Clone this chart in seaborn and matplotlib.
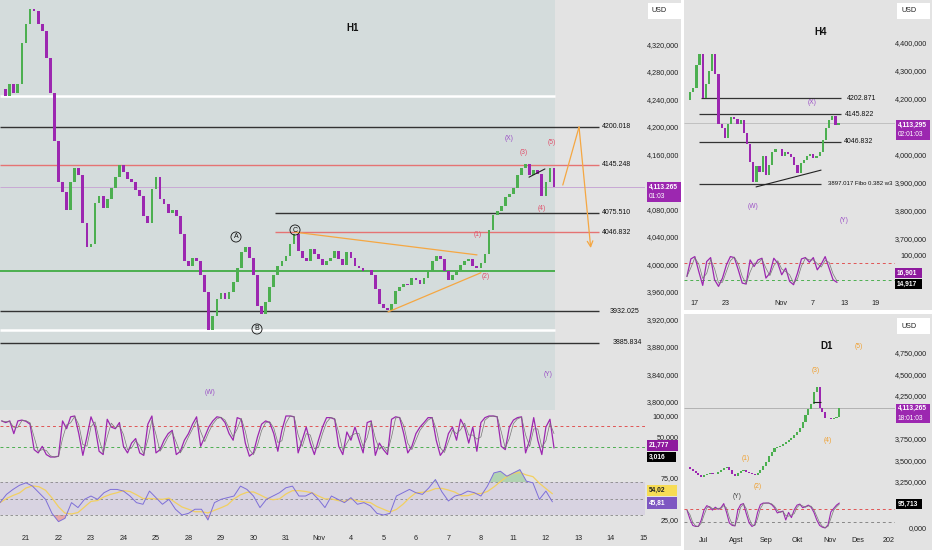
import numpy as np
import pandas as pd
import matplotlib
matplotlib.use("Agg")
import matplotlib.pyplot as plt
from matplotlib.patches import Rectangle
import seaborn as sns

# ---------------- data ----------------
# H1 (one value every 3 hours, day 0 = 21 Oct)
h1_close = [4255, 4245, 4262, 4250, 4262, 4322, 4350, 4372, 4368, 4350,
            4340, 4300, 4250, 4180, 4120, 4105, 4080, 4120, 4140, 4130,
            4060, 4025, 4030, 4090, 4100, 4082, 4095, 4112, 4128, 4145,
            4135, 4125, 4120, 4108, 4100, 4070, 4060, 4110, 4128, 4095,
            4088, 4075, 4080, 4070, 4045, 4005, 3998, 4010, 4005, 3985,
            3960, 3905, 3925, 3950, 3958, 3950, 3960, 3975, 3995, 4018,
            4025, 4010, 3985, 3940, 3928, 3945, 3968, 3985, 3998, 4005,
            4012, 4030, 4045, 4020, 4010, 4005, 4022, 4015, 4008, 4000,
            4005, 4010, 4020, 4008, 4000, 4018, 4010, 3998, 3995, 3990,
            3992, 3985, 3965, 3942, 3937, 3934, 3942, 3962, 3968, 3972,
            3970, 3980, 3978, 3972, 3980, 3990, 4005, 4012, 4008, 3990,
            3978, 3985, 3992, 4000, 4005, 4008, 3998, 3995, 4002, 4015,
            4050, 4072, 4078, 4085, 4098, 4102, 4112, 4130, 4140, 4146,
            4130, 4138, 4132, 4100, 4120, 4140, 4113.265]
h1_stoch = [88, 84, 88, 57, 88, 90, 87, 80, 18, 10,
            26, 6, 0, 0, 2, 88, 69, 98, 100, 57,
            4, 49, 98, 73, 14, 6, 92, 73, 69, 84,
            26, 10, 34, 45, 10, 4, 80, 100, 10, 18,
            41, 57, 65, 6, 14, 41, 57, 80, 98, 26,
            49, 73, 88, 98, 96, 84, 57, 41, 96, 92,
            34, 2, 10, 49, 80, 88, 84, 57, 14, 65,
            100, 100, 98, 10, 41, 73, 34, 6, 41, 73,
            96, 96, 92, 26, 6, 61, 41, 73, 41, 10,
            84, 88, 4, 34, 18, 6, 92, 98, 96, 57,
            10, 26, 57, 73, 84, 96, 96, 41, 4, 18,
            57, 73, 41, 92, 73, 34, 73, 14, 84, 96,
            100, 100, 98, 26, 18, 73, 90, 96, 98, 10,
            41, 96, 41, 6, 73, 92, 22]
h1_rsi = [45, 55, 61, 66, 69, 65, 57, 49, 32, 22,
          26, 45, 39, 49, 53, 49, 57, 61, 61, 59,
          53, 45, 43, 59, 51, 43, 49, 37, 30, 32,
          37, 37, 24, 45, 49, 51, 53, 65, 61, 53,
          39, 49, 53, 57, 63, 65, 53, 53, 57, 49,
          39, 53, 49, 45, 51, 43, 45, 41, 32, 30,
          32, 53, 57, 61, 57, 55, 63, 73, 58, 47,
          53, 55, 59, 57, 53, 65, 81, 83, 77, 81,
          85, 71, 69, 49, 59, 46]
h1_days = ["21", "22", "23", "24", "25", "28", "29", "30", "31", "Nov",
           "4", "5", "6", "7", "8", "11", "12", "13", "14", "15"]
h1_levels = [4200.018, 4145.248, 4075.510, 4046.832, 3932.025, 3885.834]
h1_zones = [4245, 3905]      # white lines
h1_support = 3990            # green line
h1_price_ticks = [3800, 3840, 3880, 3920, 3960, 4000, 4040, 4080, 4160, 4200, 4240, 4280, 4320]

# H4 (trading day 0 = 17 Oct)
h4_close = [4196, 4225, 4240, 4320, 4360, 4205, 4255, 4300, 4360, 4290,
            4110, 4095, 4060, 4110, 4135, 4128, 4112, 4125, 4078, 4040,
            3975, 3905, 3960, 3940, 3995, 3930, 3965, 4010, 4022, 4020,
            3995, 4012, 4005, 3992, 3965, 3935, 3970, 3982, 3995, 4005,
            3990, 3998, 4010, 4055, 4095, 4125, 4138, 4107, 4113.295]
h4_stoch = [35, 88, 95, 50, 8, 80, 92, 25, 5, 30,
            70, 95, 92, 55, 15, 12, 85, 65, 85, 90,
            30, 45, 90, 75, 40, 60, 20, 10, 45, 88,
            92, 78, 92, 55, 72, 95, 60, 25, 17]
h4_tick_days = [0, 4, 11, 15, 19, 23]
h4_tick_labels = ["17", "23", "Nov", "7", "13", "19"]
h4_levels = [4202.871, 4145.822, 4046.832, 3897.017]
h4_price_ticks = [3700, 3800, 3900, 4000, 4200, 4300, 4400]

# D1 (trading day 0 = 1 Jul, one value every 2 days)
d1_close = [3428, 3405, 3380, 3360, 3330, 3310, 3331, 3345, 3355, 3345,
            3340, 3362, 3385, 3410, 3424, 3390, 3345, 3320, 3355, 3380,
            3390, 3368, 3350, 3340, 3332, 3350, 3385, 3440, 3485, 3550,
            3600, 3645, 3660, 3668, 3690, 3715, 3740, 3765, 3800, 3830,
            3880, 3950, 4030, 4100, 4160, 4300, 4355, 4110, 4060, 3990,
            3995, 3980, 3990, 4010, 4113.265]
d1_stoch = [68, 35, 10, 6, 6, 30, 69, 86, 80, 69,
            80, 72, 78, 94, 60, 19, 10, 8, 70, 90,
            94, 55, 20, 6, 12, 60, 90, 96, 96, 96,
            90, 78, 58, 62, 65, 31, 60, 40, 70, 88,
            92, 78, 82, 88, 80, 60, 31, 10, 3, 0,
            12, 62, 75, 88, 96]
d1_tick_days = [0, 23, 44, 66, 89, 109, 131]
d1_tick_labels = ["Jul", "Agst", "Sep", "Okt", "Nov", "Des", "202"]
d1_price_ticks = [3250, 3500, 3750, 4250, 4500, 4750]

# ---------------- style ----------------
GREEN = "#4caf50"
PURPLE = "#9c27b0"
ORANGE = "#f5a742"
PANEL = "#e3e3e3"
BLUEBG = "#d4dcdc"
TXT = "#222222"
WAVE_P = "#9b4fc6"
WAVE_R = "#e0506a"

sns.set_style("white")
plt.rcParams["font.family"] = ["Liberation Sans", "DejaVu Sans"]
FS = 5.2

W, H = 932, 550
fig = plt.figure(figsize=(W / 100, H / 100), dpi=100, facecolor="white")


def box(x0, y0, x1, y1):
    return [x0 / W, 1 - y1 / H, (x1 - x0) / W, (y1 - y0) / H]


def bg(x0, y0, x1, y1, color, z=-2):
    fig.add_artist(Rectangle((x0 / W, 1 - y1 / H), (x1 - x0) / W, (y1 - y0) / H,
                             transform=fig.transFigure, fc=color, ec="none", zorder=z))


def ptext(x, y, s, **kw):
    kw.setdefault("fontsize", FS)
    kw.setdefault("color", TXT)
    kw.setdefault("va", "center")
    fig.text(x / W, 1 - y / H, s, **kw)


def tag(x0, y0, x1, y1, fc, lines, tc="white", fs=4.8):
    bg(x0, y0, x1, y1, fc, z=5)
    for i, s in enumerate(lines):
        yc = y0 + (y1 - y0) * (i + 0.5) / len(lines)
        ptext(x0 + 1.5, yc, s, color=tc, fontsize=fs,
              fontweight="bold" if i == 0 else "normal", zorder=6)


def clean(ax, fc=PANEL):
    ax.set_facecolor(fc)
    for s in ax.spines.values():
        s.set_visible(False)
    ax.set_xticks([])
    ax.set_yticks([])
    ax.tick_params(length=0)


def right_ticks(ax, ticks, labels, pad_px):
    ax.yaxis.tick_right()
    ax.set_yticks(ticks)
    ax.set_yticklabels(labels)
    ax.tick_params(axis="y", length=0, pad=pad_px * 0.72, labelsize=FS, colors=TXT)
    for lab in ax.get_yticklabels():
        lab.set_horizontalalignment("right")


def bottom_ticks(ax, ticks, labels, pad_pt):
    ax.set_xticks(ticks)
    ax.set_xticklabels(labels)
    ax.tick_params(axis="x", length=0, pad=pad_pt, labelsize=FS, colors=TXT)


def candles(ax, xs, closes, width):
    c = np.asarray(closes, dtype=float)
    o = np.r_[c[0], c[:-1]]
    cols = np.where(c >= o, GREEN, PURPLE)
    h = np.where(np.abs(c - o) < 1e-9, 0.5, c - o)
    ax.bar(xs, h, bottom=o, width=width, color=cols, linewidth=0, zorder=3)


def stoch_lines(ax, xs, k, lw=0.9):
    k = pd.Series(k, dtype=float)
    d = k.rolling(2, min_periods=1).mean()
    sns.lineplot(x=xs, y=k.values, ax=ax, color=PURPLE, linewidth=lw, zorder=3)
    sns.lineplot(x=xs, y=d.values, ax=ax, color="#777777", linewidth=0.5, zorder=4)


def price_fmt(v):
    return f"{int(v):,},000"


def usd(x0, y0):
    bg(x0, y0, x0 + 33, y0 + 16, "white", z=5)
    ptext(x0 + 4, y0 + 8, "USD", zorder=6)


# panel backgrounds
bg(0, 0, 681, 546, PANEL)
bg(684, 0, 932, 310, PANEL)
bg(684, 314, 932, 550, PANEL)

# =============== H1 ===============
ax = fig.add_axes(box(0, 0, 645, 410))
clean(ax)
ax.set_xlim(-0.8, 19.05)
ax.set_ylim(3788.4, 4384.7)
ax.axvspan(-0.8, 16.28, color=BLUEBG, zorder=0, lw=0)
h1_x = -0.75 + np.arange(len(h1_close)) / 8
candles(ax, h1_x, h1_close, 0.085)

ax.hlines(h1_zones, -0.8, 16.28, color="white", lw=1.8, zorder=2)
ax.hlines(h1_support, -0.8, 16.28, color="#4caf50", lw=1.4, zorder=2)
ax.hlines(h1_close[-1], -0.8, 19.05, color="#c8a8d4", lw=0.7, zorder=2)
level_style = [("#333333", -0.8), ("#e57373", -0.8), ("#333333", 7.66),
               ("#e57373", 7.66), ("#333333", -0.8), ("#333333", -0.8)]
for lvl, (col, x0) in zip(h1_levels, level_style):
    ax.hlines(lvl, x0, 17.63, color=col, lw=1.0, zorder=2)
for lvl, lx in zip(h1_levels, [602, 602, 602, 602, 610, 613]):
    ptext(lx, 127 + (4200 - lvl) * 0.6875, f"{lvl:.3f}", color="#111111", fontsize=5.0)

# triangle, arrow path and small trendline
ax.plot([8.28, 13.88], [4047, 4014], color=ORANGE, lw=0.9, zorder=4)
ax.plot([11.14, 14.0], [3931, 3988], color=ORANGE, lw=0.9, zorder=4)
ax.plot([15.48, 15.97], [4127, 4139], color="#222222", lw=0.8, zorder=4)
ax.plot([16.52, 17.02], [4115.6, 4200], color=ORANGE, lw=0.9, zorder=4)
ax.annotate("", xy=(17.38, 4024), xytext=(17.02, 4200),
            arrowprops=dict(arrowstyle="->", color=ORANGE, lw=0.9, shrinkA=0, shrinkB=0))
right_ticks(ax, h1_price_ticks, [price_fmt(v) for v in h1_price_ticks], 34)

ptext(353, 28, "H1", fontsize=7, fontweight="bold", ha="center", color="#111111")
for s, x, y, c in [("(X)", 509, 139, WAVE_P), ("(5)", 552, 142, WAVE_R), ("(3)", 524, 153, WAVE_R),
                   ("(4)", 542, 208, WAVE_R), ("(1)", 478, 235, WAVE_R), ("(2)", 486, 277, WAVE_R),
                   ("(Y)", 548, 375, WAVE_P), ("(W)", 210, 392, WAVE_P)]:
    ptext(x, y, s, color=c, ha="center", fontsize=4.8)
for s, x, y in [("A", 236, 237), ("B", 257, 329), ("C", 295, 230)]:
    ptext(x, y, s, ha="center", fontsize=5, color="#111111",
          bbox=dict(boxstyle="circle,pad=0.22", fc="none", ec="#111111", lw=0.6))

# stochastic
axs = fig.add_axes(box(0, 410, 645, 463))
clean(axs)
axs.set_xlim(-0.8, 19.05)
axs.set_ylim(-14.6, 114.6)
axs.axhline(75, color="#e05555", lw=0.7, ls=(0, (3, 3)))
axs.axhline(25, color="#4caf50", lw=0.7, ls=(0, (3, 3)))
stoch_lines(axs, -0.75 + np.arange(len(h1_stoch)) / 8, h1_stoch)
right_ticks(axs, [100, 50], ["100,000", "50,000"], 34)

# rsi
axr = fig.add_axes(box(0, 463, 645, 526))
clean(axr)
axr.set_xlim(-0.8, 19.05)
axr.set_ylim(16.7, 93)
axr.axhspan(30, 70, color="#b39ddb", alpha=0.22, lw=0)
for v in (70, 50, 30):
    axr.axhline(v, color="#888888", lw=0.6, ls=(0, (3, 3)))
rsi_x = -0.8 + 0.2 * np.arange(len(h1_rsi))
rsi = np.asarray(h1_rsi, dtype=float)
rsi_ma = pd.Series(rsi).rolling(4, min_periods=1).mean().values
axr.fill_between(rsi_x, rsi, 70, where=rsi > 70, interpolate=True, color="#66bb6a", alpha=0.4, lw=0)
axr.fill_between(rsi_x, rsi, 30, where=rsi < 30, interpolate=True, color="#ef5350", alpha=0.4, lw=0)
sns.lineplot(x=rsi_x, y=rsi_ma, ax=axr, color="#f2d060", linewidth=0.9)
sns.lineplot(x=rsi_x, y=rsi, ax=axr, color="#7e6fd8", linewidth=0.7)
right_ticks(axr, [75, 25], ["75,00", "25,00"], 34)
bottom_ticks(axr, range(len(h1_days)), h1_days, 6.5)

usd(648, 3)
tag(647, 182, 681, 202, PURPLE, [f"{h1_close[-1]:,.3f}", "01:03"])
tag(647, 440, 678, 451, "#8e1a9e", ["21,777"])
tag(647, 452, 676, 462, "black", ["3,016"])
tag(647, 485, 677, 496, "#f7dc55", ["54,02"], tc="#222222")
tag(647, 497, 677, 509, "#7e57c2", ["45,81"])

# =============== H4 ===============
a4 = fig.add_axes(box(684, 0, 895, 247))
clean(a4)
a4.set_xlim(-1.27, 25.44)
a4.set_ylim(3671.4, 4553.6)
candles(a4, -0.9 + 0.4 * np.arange(len(h4_close)), h4_close, 0.28)
a4.hlines(h4_close[-1], -1.27, 25.44, color="#bbbbbb", lw=0.6, zorder=2)
for lvl, x0, x1 in zip(h4_levels, [0.89, 0.63, 0.63, 0.63], [18.6, 18.6, 18.6, 16.1]):
    a4.hlines(lvl, x0, x1, color="#333333", lw=0.9, zorder=2)
a4.plot([7.85, 16.08], [3886, 3946], color="#222222", lw=0.8, zorder=4)
for lvl, lx, txt, fs in zip(h4_levels, [847, 845, 844, 828],
                            ["4202.871", "4145.822", "4046.832", "3897.017 Fibo 0.382 w3"],
                            [5.0, 5.0, 5.0, 4.3]):
    ptext(lx, 99 + (4200 - lvl) * 0.28, txt, color="#111111", fontsize=fs)
right_ticks(a4, h4_price_ticks, [price_fmt(v) for v in h4_price_ticks], 32)
ptext(821, 32, "H4", fontsize=7, fontweight="bold", ha="center", color="#111111")
for s, x, y in [("(X)", 812, 103), ("(W)", 753, 206), ("(Y)", 844, 220)]:
    ptext(x, y, s, color=WAVE_P, ha="center", fontsize=4.8)

a4s = fig.add_axes(box(684, 247, 895, 292))
clean(a4s)
a4s.set_xlim(-1.27, 25.44)
a4s.set_ylim(-12, 124)
a4s.axhline(75, color="#e05555", lw=0.7, ls=(0, (3, 3)))
a4s.axhline(25, color="#4caf50", lw=0.7, ls=(0, (3, 3)))
stoch_lines(a4s, -0.9 + 0.5 * np.arange(len(h4_stoch)), h4_stoch)
right_ticks(a4s, [100], ["100,000"], 32)
bottom_ticks(a4s, h4_tick_days, h4_tick_labels, 5.8)

usd(897, 3)
tag(896, 120, 930, 140, PURPLE, ["4,113,295", "02:01:03"])
tag(895, 268, 922, 278, "#8e1a9e", ["16,901"])
tag(895, 279, 922, 289, "black", ["14,917"])

# =============== D1 ===============
a1 = fig.add_axes(box(684, 314, 895, 495))
clean(a1)
a1.set_xlim(-14.2, 135.5)
a1.set_ylim(3099, 5203)
candles(a1, -12 + 2 * np.arange(len(d1_close)), d1_close, 1.5)
a1.hlines(d1_close[-1], -14.2, 135.5, color="#aaaaaa", lw=0.6, zorder=2)
a1.hlines(4180, 77.3, 83, color="#222222", lw=0.8, zorder=4)
right_ticks(a1, d1_price_ticks, [price_fmt(v) for v in d1_price_ticks], 32)
ptext(827, 346, "D1", fontsize=7, fontweight="bold", ha="center", color="#111111")
for s, x, y in [("(5)", 859, 346), ("(3)", 816, 371), ("(4)", 828, 440),
                ("(1)", 746, 459), ("(2)", 758, 486)]:
    ptext(x, y, s, color="#f0a030", ha="center", fontsize=4.8)
ptext(737, 496, "(Y)", color="#444444", ha="center", fontsize=4.8)

a1s = fig.add_axes(box(684, 495, 895, 532))
clean(a1s)
a1s.set_xlim(-14.2, 135.5)
a1s.set_ylim(-15.4, 127)
a1s.axhline(75, color="#e05555", lw=0.7, ls=(0, (3, 3)))
a1s.axhline(25, color="#888888", lw=0.7, ls=(0, (3, 3)))
stoch_lines(a1s, -12 + 2 * np.arange(len(d1_stoch)), d1_stoch, lw=0.8)
right_ticks(a1s, [0], ["0,000"], 32)
bottom_ticks(a1s, d1_tick_days, d1_tick_labels, 3.6)

usd(897, 318)
tag(896, 404, 930, 423, PURPLE, ["4,113,265", "18:01:03"])
tag(896, 499, 922, 509, "black", ["95,713"])

fig.savefig("out.png", dpi=100, facecolor="white")
